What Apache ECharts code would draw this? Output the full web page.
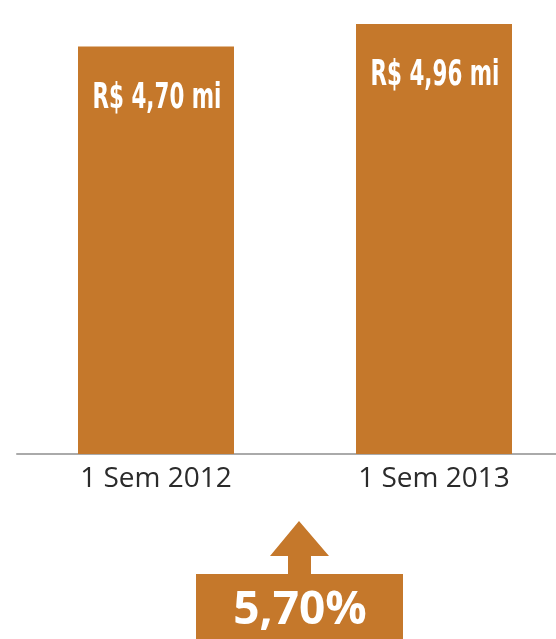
<!DOCTYPE html>
<html>
<head>
<meta charset="utf-8">
<script src="https://cdn.jsdelivr.net/npm/echarts@6/dist/echarts.min.js"></script>
<style>
html,body{margin:0;padding:0;background:#fff;}
#chart{width:556px;height:639px;}
</style>
</head>
<body>
<div id="chart"></div>
<script>
var categories = ['1 Sem 2012', '1 Sem 2013'];
var values = [4.70, 4.96];
var growthLabel = '5,70%';

var barColor = '#C5782B';

function fmt(v) {
  return 'R$ ' + v.toFixed(2).replace('.', ',') + ' mi';
}

var chart = echarts.init(document.getElementById('chart'), null, {renderer: 'canvas'});
var baseGraphics = [
  {
    type: 'polygon',
    shape: {points: [[299, 521], [329, 556], [311, 556], [311, 575], [288, 575], [288, 556], [270, 556]]},
    style: {fill: barColor}
  },
  {
    type: 'rect',
    shape: {x: 196, y: 574, width: 207, height: 65},
    style: {fill: barColor}
  },
  {
    type: 'text',
    x: 300,
    y: 611,
    style: {
      text: growthLabel,
      fill: '#ffffff',
      font: 'bold 46px "Open Sans"',
      align: 'center',
      verticalAlign: 'middle'
    }
  }
];

chart.setOption({
  animation: false,
  grid: {left: 17, width: 556, top: 20.5, bottom: 185, containLabel: false, outerBoundsMode: 'none'},
  xAxis: {
    type: 'category',
    data: categories,
    boundaryGap: true,
    axisLine: {show: true, lineStyle: {color: '#aaaaaa', width: 2}},
    axisTick: {show: false},
    axisLabel: {
      color: '#2b2b2b',
      fontFamily: 'Open Sans',
      fontSize: 28,
      margin: 11
    }
  },
  yAxis: {
    type: 'value',
    min: 0,
    max: 5,
    show: false,
    splitLine: {show: false}
  },
  series: [{
    type: 'bar',
    data: values,
    barWidth: 156,
    itemStyle: {color: barColor},
    label: {show: false}
  }],
  graphic: {elements: baseGraphics}
});

var labelGraphics = values.map(function (v, i) {
  var p = chart.convertToPixel({gridIndex: 0}, [i, v]);
  return {
    type: 'text',
    x: p[0] + 1,
    y: p[1] + 52,
    scaleX: 0.68,
    style: {
      text: fmt(v),
      fill: '#ffffff',
      font: 'bold 35px "DejaVu Sans Condensed"',
      align: 'center',
      verticalAlign: 'middle'
    },
    z: 100
  };
});
chart.setOption({graphic: {elements: baseGraphics.concat(labelGraphics)}});
</script>
</body>
</html>
